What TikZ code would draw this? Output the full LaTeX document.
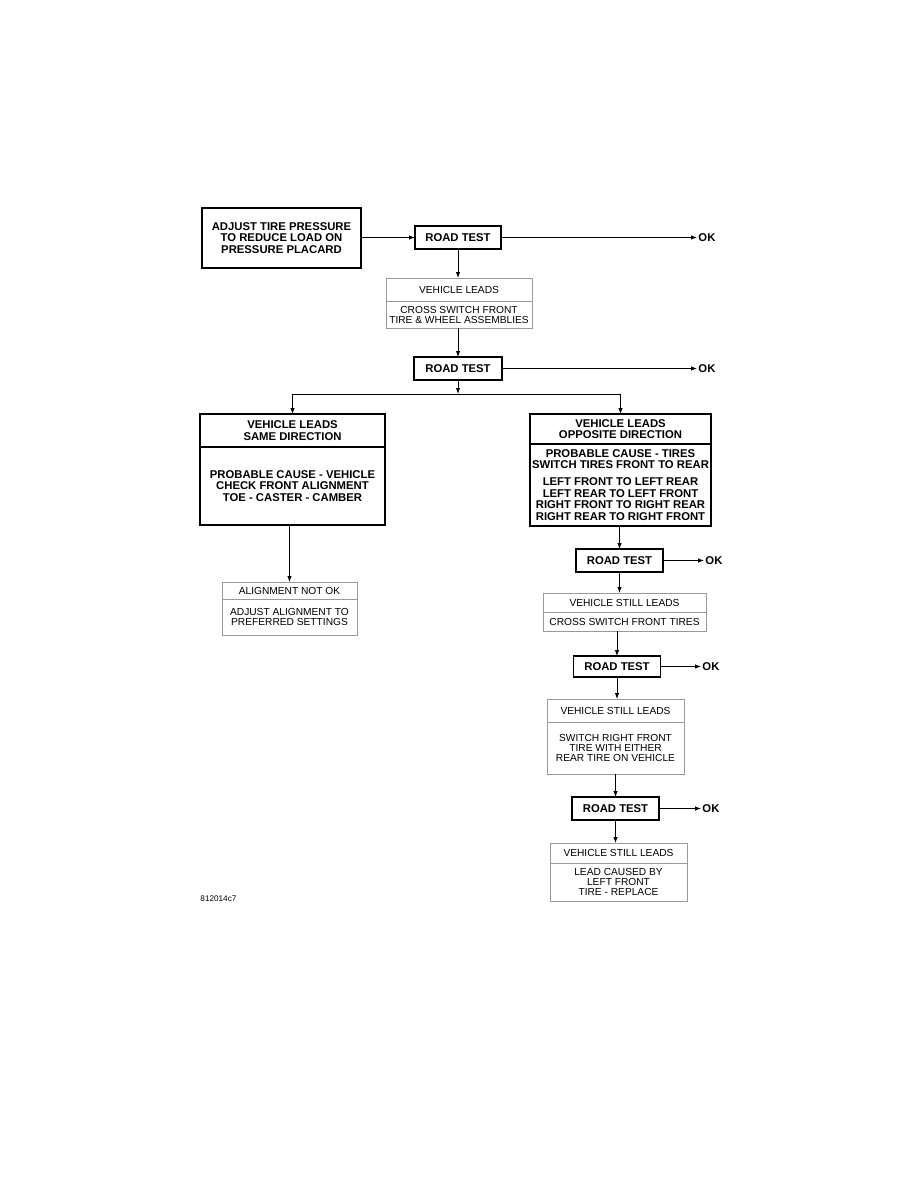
\documentclass[tikz,border=0pt]{standalone}
\usepackage{fontspec}
\setmainfont{Liberation Sans}
\usetikzlibrary{positioning,arrows.meta}
\newcommand{\boxbf}{\fontsize{11.3}{11.5}\selectfont\bfseries}
\newcommand{\boxrm}{\fontsize{10.2}{10}\selectfont}
\begin{document}
\begin{tikzpicture}[x=1pt, y=-1pt, >={Latex[length=6pt,width=4.5pt]}, line width=0.9pt,
  hardbox/.style={draw, line width=1.5pt, inner sep=0pt, outer sep=0pt, align=center, font=\boxbf},
  softbox/.style={draw=black!40, line width=0.8pt, inner sep=0pt, outer sep=0pt, align=center, font=\boxrm},
  oktext/.style={font=\boxbf, inner xsep=1pt, inner ysep=0pt, anchor=west}]
\useasboundingbox (0,0) rectangle (918,1188);

\node[hardbox, minimum width=159pt, minimum height=60pt] (adj) at (281.5,238) {ADJUST TIRE PRESSURE\\TO REDUCE LOAD ON\\PRESSURE PLACARD};
\node[hardbox, minimum width=86pt, minimum height=23pt] (rt1) at (458,237.5) {ROAD TEST};
\node[oktext] (ok1) at (697,237.5) {OK};

\node[softbox, minimum width=146pt, minimum height=23pt] (vl1h) at (459,289.5) {VEHICLE LEADS};
\node[softbox, minimum width=146pt, minimum height=27pt, below=0pt of vl1h] (vl1b) {CROSS SWITCH FRONT\\TIRE \& WHEEL ASSEMBLIES};

\node[hardbox, minimum width=88pt, minimum height=23pt] (rt2) at (458,368.5) {ROAD TEST};
\node[oktext] (ok2) at (697,368.5) {OK};
\coordinate (fork) at (458,394);

\node[hardbox, minimum width=185pt, minimum height=33pt] (sameh) at (292.5,430.5) {VEHICLE LEADS\\SAME DIRECTION};
\node[hardbox, minimum width=185pt, minimum height=78pt, below=0pt of sameh] (sameb) {PROBABLE CAUSE - VEHICLE\\CHECK FRONT ALIGNMENT\\TOE - CASTER - CAMBER};

\node[hardbox, minimum width=181pt, minimum height=30pt] (opph) at (620.5,429) {VEHICLE LEADS\\OPPOSITE DIRECTION};
\node[hardbox, minimum width=181pt, minimum height=82pt, below=0pt of opph] (oppb) {PROBABLE CAUSE - TIRES\\SWITCH TIRES FRONT TO REAR\\[5.5pt]LEFT FRONT TO LEFT REAR\\LEFT REAR TO LEFT FRONT\\RIGHT FRONT TO RIGHT REAR\\RIGHT REAR TO RIGHT FRONT};

\node[softbox, minimum width=135pt, minimum height=17pt] (alignh) at (289.5,590.5) {ALIGNMENT NOT OK};
\node[softbox, minimum width=135pt, minimum height=36pt, below=0pt of alignh] (alignb) {ADJUST ALIGNMENT TO\\PREFERRED SETTINGS};

\node[hardbox, minimum width=87pt, minimum height=23pt] (rt3) at (619.5,560.5) {ROAD TEST};
\node[oktext] (ok3) at (704,560.5) {OK};
\node[softbox, minimum width=163pt, minimum height=19pt] (vsl1h) at (624.5,602.5) {VEHICLE STILL LEADS};
\node[softbox, minimum width=163pt, minimum height=19pt, below=0pt of vsl1h] (vsl1b) {CROSS SWITCH FRONT TIRES};

\node[hardbox, minimum width=87pt, minimum height=21pt] (rt4) at (617,666.5) {ROAD TEST};
\node[oktext] (ok4) at (701,666.5) {OK};
\node[softbox, minimum width=137pt, minimum height=23pt] (vsl2h) at (615.5,710.5) {VEHICLE STILL LEADS};
\node[softbox, minimum width=137pt, minimum height=52pt, below=0pt of vsl2h] (vsl2b) {SWITCH RIGHT FRONT\\TIRE WITH EITHER\\REAR TIRE ON VEHICLE};

\node[hardbox, minimum width=87pt, minimum height=23pt] (rt5) at (615.5,808.5) {ROAD TEST};
\node[oktext] (ok5) at (701,808.5) {OK};
\node[softbox, minimum width=137pt, minimum height=20pt] (vsl3h) at (618.5,853) {VEHICLE STILL LEADS};
\node[softbox, minimum width=137pt, minimum height=38pt, below=0pt of vsl3h] (vsl3b) {LEAD CAUSED BY\\LEFT FRONT\\TIRE - REPLACE};

\node[font=\fontsize{8.2}{9}\selectfont, anchor=west, inner sep=0pt] (figid) at (200,899) {812014c7};

\draw[->] (adj.east |- rt1) -- (rt1);
\draw[->] (rt1) -- (ok1);
\draw[->] (rt1.south) -- (rt1.south |- vl1h.north);
\draw[->] (vl1b.south -| rt2) -- (rt2);
\draw[->] (rt2) -- (ok2);
\draw[->] (rt2) -- (fork);
\draw[->] (fork) -| (sameh);
\draw[->] (fork) -| (opph);
\draw[->] (alignh |- sameb.south) -- (alignh);
\draw[->] (oppb.south -| rt3) -- (rt3);
\draw[->] (rt3) -- (ok3);
\draw[->] (rt3.south) -- (rt3.south |- vsl1h.north);
\draw[->] (vsl1b.south -| rt4) -- (rt4);
\draw[->] (rt4) -- (ok4);
\draw[->] (rt4.south) -- (rt4.south |- vsl2h.north);
\draw[->] (vsl2b.south -| rt5) -- (rt5);
\draw[->] (rt5) -- (ok5);
\draw[->] (rt5.south) -- (rt5.south |- vsl3h.north);
\end{tikzpicture}
\end{document}
